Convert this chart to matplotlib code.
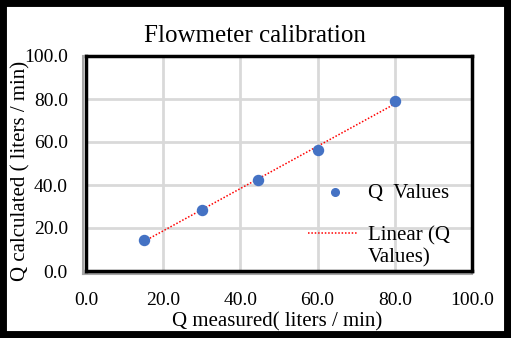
import numpy as np
import matplotlib
matplotlib.use('Agg')
import matplotlib.pyplot as plt
from matplotlib.lines import Line2D
from matplotlib.patches import Rectangle

# values
q_measured = [15.0, 30.0, 44.5, 60.0, 80.0]
q_calculated = [14.5, 28.5, 42.3, 56.5, 79.0]
ticks = [0, 20, 40, 60, 80, 100]
tick_labels = ['0.0', '20.0', '40.0', '60.0', '80.0', '100.0']

plt.rcParams['font.family'] = ['Liberation Serif', 'DejaVu Serif']

fig = plt.figure(figsize=(5.11, 3.38), dpi=100)
ax = fig.add_axes([86 / 511, 1 - 271 / 338, (472 - 86) / 511, (271 - 56) / 338])

# trendline from a least squares fit, as the spreadsheet does
slope, icpt = np.polyfit(q_measured, q_calculated, 1)
xs = np.array([min(q_measured), max(q_measured)])
ax.plot(xs, slope * xs + icpt, color='#FF0000', linestyle=(0, (1, 1.2)),
        linewidth=1.1, zorder=3)
ax.scatter(q_measured, q_calculated, s=52, color='#4472C4', zorder=4)

ax.set_xlim(0, 100)
ax.set_ylim(0, 100)
ax.set_xticks(ticks)
ax.set_yticks(ticks)
ax.set_xticklabels(tick_labels, fontsize=14)
ax.set_yticklabels(tick_labels, fontsize=14)
ax.tick_params(length=0)
ax.tick_params(axis='x', pad=15)
ax.tick_params(axis='y', pad=13)
ax.grid(color='#D9D9D9', linewidth=2.0)
ax.set_axisbelow(True)
for s in ax.spines.values():
    s.set_color('black')
    s.set_linewidth(2.5)

# grey axis lines just outside the box
ax.add_line(Line2D([-0.008, -0.008], [-0.012, 1.0], transform=ax.transAxes,
                   color='#A6A6A6', linewidth=1.5, clip_on=False))
ax.add_line(Line2D([-0.008, 1.0], [-0.012, -0.012], transform=ax.transAxes,
                   color='#A6A6A6', linewidth=1.5, clip_on=False))

fig.text(255 / 511, 1 - 36 / 338, 'Flowmeter calibration', fontsize=18,
         ha='center', va='center')
fig.text(277 / 511, 1 - 322 / 338, 'Q measured( liters / min)', fontsize=15,
         ha='center', va='center')
fig.text(21 / 511, 1 - 171 / 338, 'Q calculated ( liters / min)', fontsize=15,
         ha='center', va='center', rotation=90)

# legend laid out by hand, like the spreadsheet one
tr = ax.transAxes
ax.plot([0.645], [0.367], marker='o', color='#4472C4', markersize=5.5,
        linestyle='none', transform=tr, zorder=5)
ax.text(0.731, 0.36, 'Q  Values', fontsize=15, va='center', transform=tr)
ax.plot([0.575, 0.702], [0.177, 0.177], color='#FF0000', linestyle=(0, (1, 1.2)),
        linewidth=1.1, transform=tr, zorder=5)
ax.text(0.731, 0.165, 'Linear (Q', fontsize=15, va='center', transform=tr)
ax.text(0.731, 0.06, 'Values)', fontsize=15, va='center', transform=tr)

fig.add_artist(Rectangle((0, 0), 1, 1, transform=fig.transFigure, fill=False,
                         edgecolor='black', linewidth=10))

fig.savefig('out.png', dpi=100)
